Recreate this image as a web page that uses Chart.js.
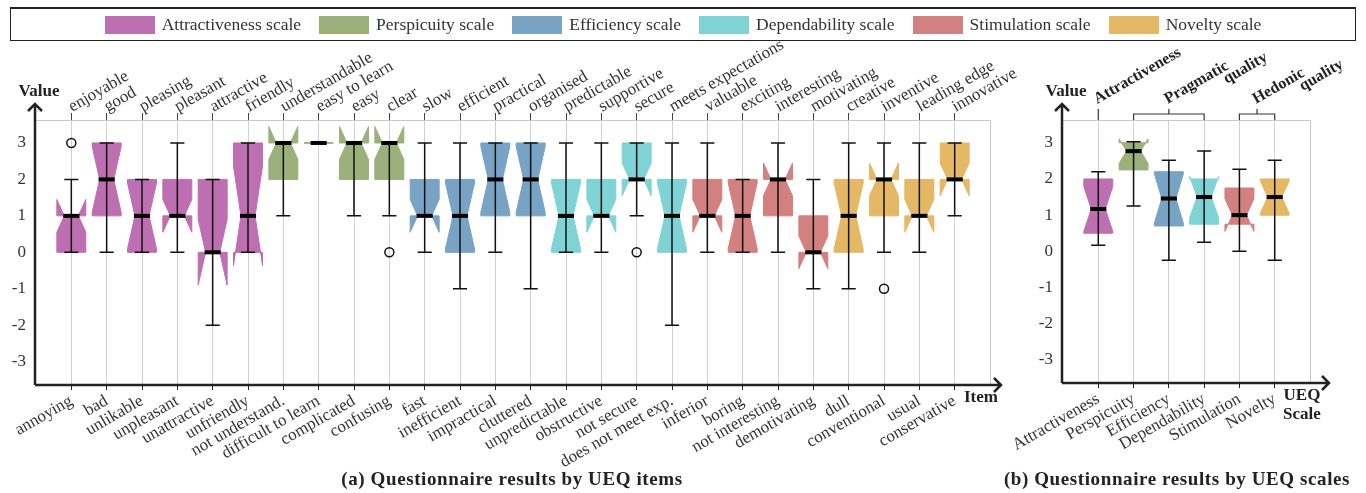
<!DOCTYPE html>
<html>
<head>
<meta charset="utf-8">
<script src="https://cdn.jsdelivr.net/npm/chart.js@4.4.0/dist/chart.umd.min.js"></script>
<style>
  body { margin: 0; width: 1366px; height: 493px; background: #fff; position: relative; overflow: hidden;
         font-family: "Liberation Serif", serif; color: #333; }
  #legend { position: absolute; left: 10px; top: 7px; width: 1344px; height: 31px; border: 1px solid #222;
            border-top-width: 2px; display: flex; align-items: center; justify-content: center; gap: 18px; z-index: 2; }
  .item { display: flex; align-items: center; font-size: 17.5px; }
  .sw { width: 50px; height: 18px; margin-right: 7px; }
  canvas { position: absolute; top: 0; }
  .cap { position: absolute; top: 468px; font-weight: bold; font-size: 19px; letter-spacing: 0.6px; color: #222;
         transform: translateX(-50%); white-space: nowrap; }
</style>
</head>
<body>
<div id="legend"></div>
<canvas id="items" width="1040" height="470" style="left:0"></canvas>
<canvas id="scales" width="356" height="470" style="left:1010px"></canvas>
<div class="cap" style="left:512px">(a) Questionnaire results by UEQ items</div>
<div class="cap" style="left:1177px">(b) Questionnaire results by UEQ scales</div>
<script>
// UEQ scales
const scaleNames = ['Attractiveness', 'Perspicuity', 'Efficiency', 'Dependability', 'Stimulation', 'Novelty'];
const scaleColors = ['#bd6fb2', '#9bb07b', '#78a3c4', '#7fd3d4', '#d38080', '#e4b864'];
const yTicks = [-3, -2, -1, 0, 1, 2, 3];

// Items (positive pole on top, negative pole below)
const itemTop = ['enjoyable', 'good', 'pleasing', 'pleasant', 'attractive', 'friendly',
  'understandable', 'easy to learn', 'easy', 'clear',
  'slow', 'efficient', 'practical', 'organised',
  'predictable', 'supportive', 'secure', 'meets expectations',
  'valuable', 'exciting', 'interesting', 'motivating',
  'creative', 'inventive', 'leading edge', 'innovative'];
const itemBottom = ['annoying', 'bad', 'unlikable', 'unpleasant', 'unattractive', 'unfriendly',
  'not understand.', 'difficult to learn', 'complicated', 'confusing',
  'fast', 'inefficient', 'impractical', 'cluttered',
  'unpredictable', 'obstructive', 'not secure', 'does not meet exp.',
  'inferior', 'boring', 'not interesting', 'demotivating',
  'dull', 'conventional', 'usual', 'conservative'];
const itemScale = [0,0,0,0,0,0, 1,1,1,1, 2,2,2,2, 3,3,3,3, 4,4,4,4, 5,5,5,5];

const itemWhiskLo = [0,0,0,0,-2,0, 1,3,1,1, 0,-1,0,-1, 0,0,1,-2, 0,0,0,-1, -1,0,0,1];
const itemQ1      = [0,1,0,1,0,0, 2,3,2,2, 1,0,1,1, 0,1,2,0, 1,0,1,0, 0,1,1,2];
const itemMedian  = [1,2,1,1,0,1, 3,3,3,3, 1,1,2,2, 1,1,2,1, 1,1,2,0, 1,2,1,2];
const itemQ3      = [1,3,2,2,2,3, 3,3,3,3, 2,2,3,3, 2,2,3,2, 2,2,2,1, 2,2,2,3];
const itemWhiskHi = [2,3,2,3,2,3, 3,3,3,3, 3,3,3,3, 3,3,3,3, 3,2,3,2, 3,3,3,3];
const itemNotchLo = [0.55,1.1,0.1,0.55,-0.9,-0.36, 2.55,3,2.55,2.55, 0.55,0.1,1.1,1.1,
  0.1,0.55,1.55,0.1, 0.55,0.1,1.55,-0.45, 0.1,1.55,0.55,1.55];
const itemNotchHi = [1.45,2.9,1.9,1.45,0.9,2.36, 3.45,3,3.45,3.45, 1.45,1.9,2.9,2.9,
  1.9,1.45,2.45,1.9, 1.45,1.9,2.45,0.45, 1.9,2.45,1.45,2.45];
const itemOutlierX = [1, 10, 17, 24];
const itemOutlierY = [3, 0, 0, -1];

// Scale means per participant
const scaleWhiskLo = [0.17, 1.25, -0.25, 0.25, 0, -0.25];
const scaleQ1      = [0.5, 2.25, 0.7, 0.75, 0.75, 1.0];
const scaleMedian  = [1.17, 2.77, 1.46, 1.5, 1.0, 1.5];
const scaleQ3      = [2.0, 3.0, 2.2, 2.0, 1.75, 2.0];
const scaleWhiskHi = [2.2, 3.03, 2.52, 2.77, 2.27, 2.52];
const scaleNotchLo = [0.55, 2.43, 0.78, 0.93, 0.55, 1.05];
const scaleNotchHi = [1.79, 3.11, 2.14, 2.07, 1.45, 1.95];

const groupNames = [['Attractiveness'], ['Pragmatic', 'quality'], ['Hedonic', 'quality']];
const groupFrom = [1, 2, 5];
const groupTo = [1, 4, 6];

// legend
const legend = document.getElementById('legend');
scaleNames.forEach((n, i) => {
  legend.insertAdjacentHTML('beforeend',
    '<div class="item"><div class="sw" style="background:' + scaleColors[i] + '"></div>' + n + ' scale</div>');
});

Chart.defaults.font.family = '"Liberation Serif", serif';
Chart.defaults.font.size = 16;
Chart.defaults.color = '#333';

const SERIF = '"Liberation Serif", serif';

// notched boxes (matplotlib style), drawn through the chart scales
const notchBoxes = {
  id: 'notchBoxes',
  beforeDatasetsDraw(chart, args, o) {
    const { ctx } = chart;
    const x = chart.scales.x, y = chart.scales.y;
    const Y = v => y.getPixelForValue(v);
    ctx.save();
    for (let i = 0; i < o.med.length; i++) {
      const c = i + 1;
      const L = x.getPixelForValue(c - 0.41), R = x.getPixelForValue(c + 0.41);
      const l = x.getPixelForValue(c - 0.2), r = x.getPixelForValue(c + 0.2);
      ctx.beginPath();
      ctx.moveTo(L, Y(o.q1[i]));
      ctx.lineTo(R, Y(o.q1[i]));
      ctx.lineTo(R, Y(o.nlo[i]));
      ctx.lineTo(r, Y(o.med[i]));
      ctx.lineTo(R, Y(o.nhi[i]));
      ctx.lineTo(R, Y(o.q3[i]));
      ctx.lineTo(L, Y(o.q3[i]));
      ctx.lineTo(L, Y(o.nhi[i]));
      ctx.lineTo(l, Y(o.med[i]));
      ctx.lineTo(L, Y(o.nlo[i]));
      ctx.closePath();
      ctx.fillStyle = o.colors[o.group[i]];
      ctx.fill();
      ctx.strokeStyle = o.colors[o.group[i]];
      ctx.lineWidth = 1;
      ctx.stroke();

      const cx = x.getPixelForValue(c);
      ctx.strokeStyle = '#111';
      ctx.lineWidth = 1.5;
      ctx.beginPath();
      ctx.moveTo(cx, Y(o.wlo[i]));
      ctx.lineTo(cx, Y(o.whi[i]));
      ctx.moveTo(l, Y(o.wlo[i]));
      ctx.lineTo(r, Y(o.wlo[i]));
      ctx.moveTo(l, Y(o.whi[i]));
      ctx.lineTo(r, Y(o.whi[i]));
      ctx.stroke();
      ctx.lineWidth = 4;
      ctx.strokeStyle = '#000';
      ctx.beginPath();
      ctx.moveTo(l - 1, Y(o.med[i]));
      ctx.lineTo(r + 1, Y(o.med[i]));
      ctx.stroke();
    }
    ctx.restore();
  },
  afterDraw(chart, args, o) {
    const { ctx, chartArea: a } = chart;
    ctx.save();
    // light frame
    ctx.strokeStyle = '#c8c8c8';
    ctx.lineWidth = 1;
    ctx.beginPath();
    ctx.moveTo(a.left, a.top + 0.5);
    ctx.lineTo(a.right + 0.5, a.top + 0.5);
    ctx.lineTo(a.right + 0.5, a.bottom);
    ctx.stroke();
    // axes with arrows
    ctx.strokeStyle = '#222';
    ctx.lineWidth = 2.5;
    const ax = a.left - 1, ay = a.bottom;
    const top = a.top - 16, end = a.right + o.arrowExtra;
    ctx.beginPath();
    ctx.moveTo(ax, ay);
    ctx.lineTo(ax, top);
    ctx.moveTo(ax - 7, top + 7);
    ctx.lineTo(ax, top);
    ctx.lineTo(ax + 7, top + 7);
    ctx.moveTo(ax, ay);
    ctx.lineTo(end, ay);
    ctx.moveTo(end - 7, ay - 7);
    ctx.lineTo(end, ay);
    ctx.lineTo(end - 7, ay + 7);
    ctx.stroke();
    ctx.fillStyle = '#222';
    ctx.font = 'bold 17px ' + SERIF;
    ctx.textAlign = 'center';
    ctx.textBaseline = 'middle';
    ctx.fillText('Value', ax + 4, a.top - 28);
    o.xTitle.forEach((t, k) => ctx.fillText(t, a.right + o.xTitleDx, ay + 13 + k * 19));
    ctx.restore();
  }
};

// grouped labels above the scales chart
const groupHeads = {
  id: 'groupHeads',
  afterDraw(chart) {
    const { ctx, chartArea: a } = chart;
    const x = chart.scales.x;
    ctx.save();
    ctx.strokeStyle = '#333';
    ctx.lineWidth = 1.2;
    ctx.fillStyle = '#222';
    ctx.font = 'bold 16px ' + SERIF;
    const by = a.top - 6;
    groupNames.forEach((g, k) => {
      const x0 = x.getPixelForValue(groupFrom[k]), x1 = x.getPixelForValue(groupTo[k]);
      const cx = (x0 + x1) / 2;
      ctx.beginPath();
      if (groupFrom[k] === groupTo[k]) {
        ctx.moveTo(cx, a.top);
        ctx.lineTo(cx, a.top - 11);
      } else {
        ctx.moveTo(x0, a.top);
        ctx.lineTo(x0, by);
        ctx.lineTo(x1, by);
        ctx.lineTo(x1, a.top);
        ctx.moveTo(cx, by);
        ctx.lineTo(cx, by - 5);
      }
      ctx.stroke();
      ctx.save();
      ctx.translate(cx - 1, a.top - 16);
      ctx.rotate(-Math.PI / 6);
      ctx.textAlign = 'left';
      ctx.textBaseline = 'alphabetic';
      ctx.fillText(g[0], 0, 0);
      if (g[1]) {
        const w = ctx.measureText(g[0]).width;
        ctx.fillText(g[1], w - 10, 12);
      }
      ctx.restore();
    });
    ctx.restore();
  }
};

function fixSize(prop, v) {
  return s => {
    s[prop] = v;
    s.paddingLeft = 0; s.paddingRight = 0; s.paddingTop = 0; s.paddingBottom = 0;
  };
}

function yScale(width) {
  return {
    type: 'linear', min: -3.64, max: 3.63,
    afterBuildTicks: s => { s.ticks = yTicks.map(v => ({ value: v })); },
    afterFit: fixSize('width', width),
    grid: { display: false, drawTicks: false },
    border: { display: false },
    ticks: { padding: 10, color: '#333', font: { size: 17 }, callback: v => String(v) }
  };
}

function xBottom(labels, height) {
  return {
    type: 'linear', position: 'bottom', min: 0, max: labels.length + 1,
    afterBuildTicks: s => { s.ticks = labels.map((t, i) => ({ value: i + 1 })); },
    afterFit: fixSize('height', height),
    grid: { color: '#cfcfcf', lineWidth: 1, tickLength: 5, tickColor: '#222' },
    border: { display: false },
    ticks: { autoSkip: false, minRotation: 30, maxRotation: 30, padding: 1, color: '#333',
             font: { size: 17 }, callback: v => labels[v - 1] }
  };
}

// items chart
new Chart(document.getElementById('items'), {
  type: 'scatter',
  data: {
    datasets: [{
      data: itemOutlierX.map((v, i) => ({ x: v, y: itemOutlierY[i] })),
      pointStyle: 'circle', pointRadius: 4.5, borderColor: '#111', borderWidth: 1.5,
      backgroundColor: 'rgba(255,255,255,0)'
    }]
  },
  options: {
    responsive: false, animation: false, devicePixelRatio: 1,
    layout: { padding: { left: 0, right: 50, top: 0, bottom: 0 } },
    scales: {
      x: xBottom(itemBottom, 85),
      xTop: {
        type: 'linear', position: 'top', min: 0, max: itemTop.length + 1,
        afterBuildTicks: s => { s.ticks = itemTop.map((t, i) => ({ value: i + 1 })); },
        afterFit: fixSize('height', 120),
        grid: { drawOnChartArea: false, tickLength: 7, tickColor: '#444' },
        border: { display: false },
        ticks: { autoSkip: false, minRotation: 30, maxRotation: 30, padding: -4, labelOffset: 9, color: '#333',
                 font: { size: 17 }, callback: v => itemTop[v - 1] }
      },
      y: yScale(36)
    },
    plugins: {
      legend: { display: false },
      tooltip: { enabled: false },
      notchBoxes: {
        group: itemScale, colors: scaleColors,
        wlo: itemWhiskLo, q1: itemQ1, med: itemMedian, q3: itemQ3, whi: itemWhiskHi,
        nlo: itemNotchLo, nhi: itemNotchHi,
        arrowExtra: 11, xTitle: ['Item'], xTitleDx: -9
      }
    }
  },
  plugins: [notchBoxes]
});

// scales chart
new Chart(document.getElementById('scales'), {
  type: 'scatter',
  data: { datasets: [{ data: [] }] },
  options: {
    responsive: false, animation: false, devicePixelRatio: 1,
    layout: { padding: { left: 0, right: 56, top: 120, bottom: 0 } },
    scales: {
      x: xBottom(scaleNames, 87),
      y: yScale(53)
    },
    plugins: {
      legend: { display: false },
      tooltip: { enabled: false },
      notchBoxes: {
        group: [0, 1, 2, 3, 4, 5], colors: scaleColors,
        wlo: scaleWhiskLo, q1: scaleQ1, med: scaleMedian, q3: scaleQ3, whi: scaleWhiskHi,
        nlo: scaleNotchLo, nhi: scaleNotchHi,
        arrowExtra: 19, xTitle: ['UEQ', 'Scale'], xTitleDx: -8
      }
    }
  },
  plugins: [notchBoxes, groupHeads]
});
</script>
</body>
</html>
